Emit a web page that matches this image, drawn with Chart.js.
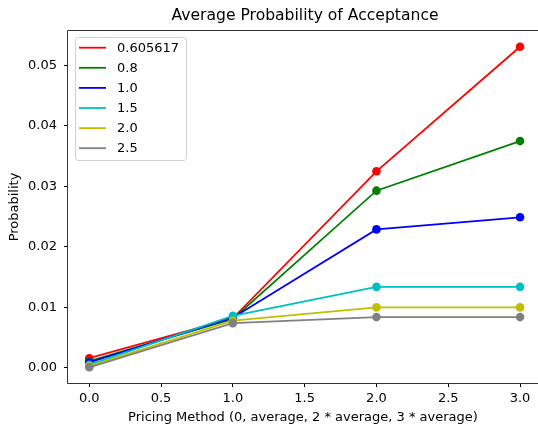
<!DOCTYPE html>
<html>
<head>
<meta charset="utf-8">
<script src="https://cdn.jsdelivr.net/npm/chart.js@4/dist/chart.umd.min.js"></script>
<style>
  html, body { margin: 0; padding: 0; background: #fff; overflow: hidden; width: 538px; height: 431px; }
  canvas { display: block; }
</style>
</head>
<body>
<canvas id="chartAcceptance" width="538" height="431"></canvas>
<script>
// --- data ---
const pricingMethods = [0, 1, 2, 3];
const seriesLabels = ['0.605617', '0.8', '1.0', '1.5', '2.0', '2.5'];
const seriesColors = ['#ff0000', '#008000', '#0000ff', '#00bfbf', '#bfbf00', '#808080'];

const prob0605617 = [0.0016, 0.0082, 0.0325, 0.0531];
const prob08 = [0.0011, 0.0081, 0.0293, 0.0375];
const prob10 = [0.0009, 0.0083, 0.0229, 0.0249];
const prob15 = [0.0005, 0.0086, 0.0134, 0.0134];
const prob20 = [0.0003, 0.0078, 0.0100, 0.0100];
const prob25 = [0.0001, 0.0074, 0.0084, 0.0084];
const seriesValues = [prob0605617, prob08, prob10, prob15, prob20, prob25];

const xTicks = [0, 0.5, 1, 1.5, 2, 2.5, 3];
const yTicks = [0, 0.01, 0.02, 0.03, 0.04, 0.05];

const FONT = 'DejaVu Sans';

// title, frame and legend drawn in matplotlib style
const mplDecor = {
    id: 'mplDecor',
    afterDraw(chart) {
        const ctx = chart.ctx;
        const a = chart.chartArea;
        ctx.save();

        // title (centred on the full axes, which run past the right edge)
        ctx.fillStyle = '#000';
        ctx.font = '15.6px "' + FONT + '"';
        ctx.textAlign = 'center';
        ctx.textBaseline = 'middle';
        ctx.fillText('Average Probability of Acceptance', 305, 16);

        // spines (right one is cut off in the reference)
        ctx.strokeStyle = '#333';
        ctx.lineWidth = 1;
        ctx.beginPath();
        ctx.moveTo(a.right, a.top - 0.5);
        ctx.lineTo(a.left - 0.5, a.top - 0.5);
        ctx.lineTo(a.left - 0.5, a.bottom + 0.5);
        ctx.lineTo(a.right, a.bottom + 0.5);
        ctx.stroke();

        // legend
        const lx = 75, ly = 37, lw = 111, lh = 123;
        ctx.beginPath();
        ctx.roundRect(lx + 0.5, ly + 0.5, lw, lh, 3);
        ctx.fillStyle = 'rgba(255,255,255,0.8)';
        ctx.fill();
        ctx.strokeStyle = '#d0d0d0';
        ctx.stroke();

        ctx.font = '13px "' + FONT + '"';
        ctx.textAlign = 'left';
        chart.data.datasets.forEach(function(ds, i) {
            const y = 47.7 + i * 20.1;
            ctx.strokeStyle = ds.borderColor;
            ctx.lineWidth = 1.8;
            ctx.beginPath();
            ctx.moveTo(79, y);
            ctx.lineTo(106, y);
            ctx.stroke();
            ctx.fillStyle = '#000';
            ctx.fillText(ds.label, 117, y + 0.5);
        });
        ctx.restore();
    }
};

document.addEventListener('DOMContentLoaded', function() {
    const ctx = document.getElementById('chartAcceptance').getContext('2d');

    const datasets = seriesLabels.map(function(label, i) {
        return {
            label: label,
            data: pricingMethods.map(function(x, j) { return { x: x, y: seriesValues[i][j] }; }),
            borderColor: seriesColors[i],
            backgroundColor: seriesColors[i],
            borderWidth: 1.8,
            pointRadius: 4.3,
            pointBorderWidth: 0,
            pointHoverRadius: 4.3,
            fill: false,
            tension: 0,
            order: seriesLabels.length - i
        };
    });

    new Chart(ctx, {
        type: 'line',
        data: { datasets: datasets },
        options: {
            responsive: false,
            animation: false,
            layout: {
                autoPadding: false,
                padding: { top: 31, left: 0, right: 0, bottom: 0 }
            },
            plugins: {
                legend: { display: false },
                title: { display: false },
                tooltip: { enabled: false }
            },
            scales: {
                x: {
                    type: 'linear',
                    min: -0.148,
                    max: 3.125,
                    afterFit: function(scale) {
                        scale.height = 48;
                        scale.paddingLeft = 0;
                        scale.paddingRight = 0;
                    },
                    afterBuildTicks: function(scale) {
                        scale.ticks = xTicks.map(function(v) { return { value: v }; });
                    },
                    grid: { drawOnChartArea: false, drawTicks: true, tickLength: 4, color: '#000' },
                    border: { display: false },
                    ticks: {
                        color: '#000',
                        padding: 4,
                        maxRotation: 0,
                        font: { size: 13, family: FONT },
                        callback: function(v) { return v.toFixed(1); }
                    },
                    title: {
                        display: true,
                        text: 'Pricing Method (0, average, 2 * average, 3 * average)',
                        color: '#000',
                        font: { size: 13, family: FONT },
                        padding: { top: 0, bottom: 6 }
                    }
                },
                y: {
                    min: -0.0025,
                    max: 0.0557,
                    afterFit: function(scale) {
                        scale.width = 68;
                        scale.paddingTop = 0;
                        scale.paddingBottom = 0;
                    },
                    afterBuildTicks: function(scale) {
                        scale.ticks = yTicks.map(function(v) { return { value: v }; });
                    },
                    grid: { drawOnChartArea: false, drawTicks: true, tickLength: 4, color: '#000' },
                    border: { display: false },
                    ticks: {
                        color: '#000',
                        padding: 7,
                        font: { size: 13, family: FONT },
                        callback: function(v) { return v.toFixed(2); }
                    },
                    title: {
                        display: true,
                        text: 'Probability',
                        color: '#000',
                        font: { size: 13, family: FONT },
                        padding: { top: 7, bottom: 0 }
                    }
                }
            }
        },
        plugins: [mplDecor]
    });
});
</script>
</body>
</html>
